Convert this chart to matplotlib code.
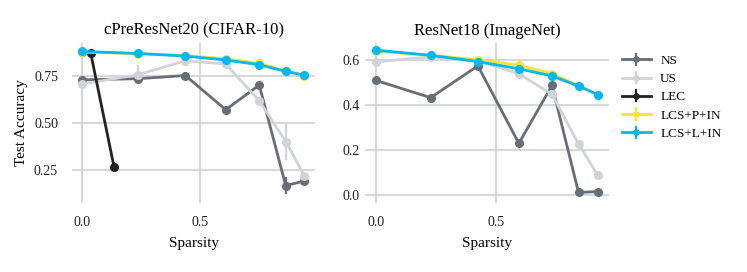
import matplotlib
matplotlib.use("Agg")
import matplotlib.pyplot as plt
import numpy as np

plt.rcParams['font.family'] = ['Liberation Serif', 'DejaVu Serif']

methods = ["NS", "US", "LEC", "LCS+P+IN", "LCS+L+IN"]
colors = {"NS": "#686e75", "US": "#d0d3d8", "LEC": "#212226",
          "LCS+P+IN": "#fde236", "LCS+L+IN": "#00b9f1"}

# CIFAR-10 (cPreResNet20)
cifar_x = [0.0, 0.236, 0.438, 0.609, 0.751, 0.863, 0.942]
cifar_lec_x = [0.0, 0.037, 0.136]
cifar_ns = [0.732, 0.738, 0.755, 0.572, 0.704, 0.166, 0.191]
cifar_ns_err = [0.01, 0.01, 0.02, 0.02, 0.015, 0.045, 0.015]
cifar_us = [0.709, 0.759, 0.834, 0.816, 0.620, 0.402, 0.218]
cifar_us_err = [0.06, 0.05, 0.01, 0.01, 0.01, 0.10, 0.01]
cifar_lec = [0.882, 0.876, 0.266]
cifar_lec_err = [0.005, 0.005, 0.025]
cifar_lcsp = [0.880, 0.872, 0.862, 0.845, 0.820, 0.780, 0.755]
cifar_lcsl = [0.884, 0.873, 0.859, 0.838, 0.813, 0.777, 0.757]

# ImageNet (ResNet18)
imnet_x = [0.0, 0.228, 0.425, 0.596, 0.734, 0.845, 0.925]
imnet_ns = [0.510, 0.433, 0.575, 0.229, 0.488, 0.010, 0.014]
imnet_us = [0.593, 0.615, 0.597, 0.540, 0.448, 0.226, 0.087]
imnet_lcsp = [0.640, 0.622, 0.603, 0.578, 0.540, 0.487, 0.445]
imnet_lcsl = [0.645, 0.622, 0.594, 0.562, 0.530, 0.485, 0.447]

fig = plt.figure(figsize=(7.47, 2.72), dpi=100)
ax1 = fig.add_axes([72/747, 1-203/272, 243/747, 160/272])
ax2 = fig.add_axes([365/747, 1-203/272, 244/747, 160/272])

lw = 2.0
ms = 5.5

def draw(ax, x, y, err, name):
    ax.errorbar(x, y, yerr=err, fmt='-o', color=colors[name], lw=lw, ms=ms,
                elinewidth=1.6, capsize=0, label=name)

draw(ax1, cifar_x, cifar_ns, cifar_ns_err, "NS")
draw(ax1, cifar_x, cifar_us, cifar_us_err, "US")
draw(ax1, cifar_lec_x, cifar_lec, cifar_lec_err, "LEC")
draw(ax1, cifar_x, cifar_lcsp, [0.005]*7, "LCS+P+IN")
draw(ax1, cifar_x, cifar_lcsl, [0.005]*7, "LCS+L+IN")

draw(ax2, imnet_x, imnet_ns, [0.005]*7, "NS")
draw(ax2, imnet_x, imnet_us, [0.005]*7, "US")
draw(ax2, imnet_x, imnet_lcsp, [0.004]*7, "LCS+P+IN")
draw(ax2, imnet_x, imnet_lcsl, [0.004]*7, "LCS+L+IN")

ax1.set_xlim(-0.042, 0.987)
ax1.set_ylim(0.073, 0.929)
ax1.set_yticks([0.25, 0.50, 0.75])
ax1.set_yticklabels(["0.25", "0.50", "0.75"])
ax2.set_xlim(-0.046, 0.972)
ax2.set_ylim(-0.037, 0.677)
ax2.set_yticks([0.0, 0.2, 0.4, 0.6])

for ax, title, ypad in [(ax1, "cPreResNet20 (CIFAR-10)", 10), (ax2, "ResNet18 (ImageNet)", 4)]:
    ax.set_xticks([0.0, 0.5])
    ax.set_xticklabels(["0.0", "0.5"])
    ax.grid(True, color="#cdd1d6", lw=1.2)
    ax.set_axisbelow(True)
    for s in ax.spines.values():
        s.set_visible(False)
    ax.tick_params(axis='both', length=0, labelsize=10, colors="#222222")
    ax.tick_params(axis='x', pad=9)
    ax.tick_params(axis='y', pad=ypad)
    ax.set_title(title, fontsize=12, pad=6)
    ax.set_xlabel("Sparsity", fontsize=11, labelpad=6)

ax1.set_ylabel("Test Accuracy", fontsize=11, labelpad=4)

handles, labels = ax1.get_legend_handles_labels()
fig.legend(handles, labels, loc='upper left', bbox_to_anchor=(610/747, 1-43/272),
           frameon=False, fontsize=9.5, handlelength=2.2, labelspacing=0.45,
           handletextpad=0.7, markerscale=0.7)

fig.savefig("out.png", dpi=100)
